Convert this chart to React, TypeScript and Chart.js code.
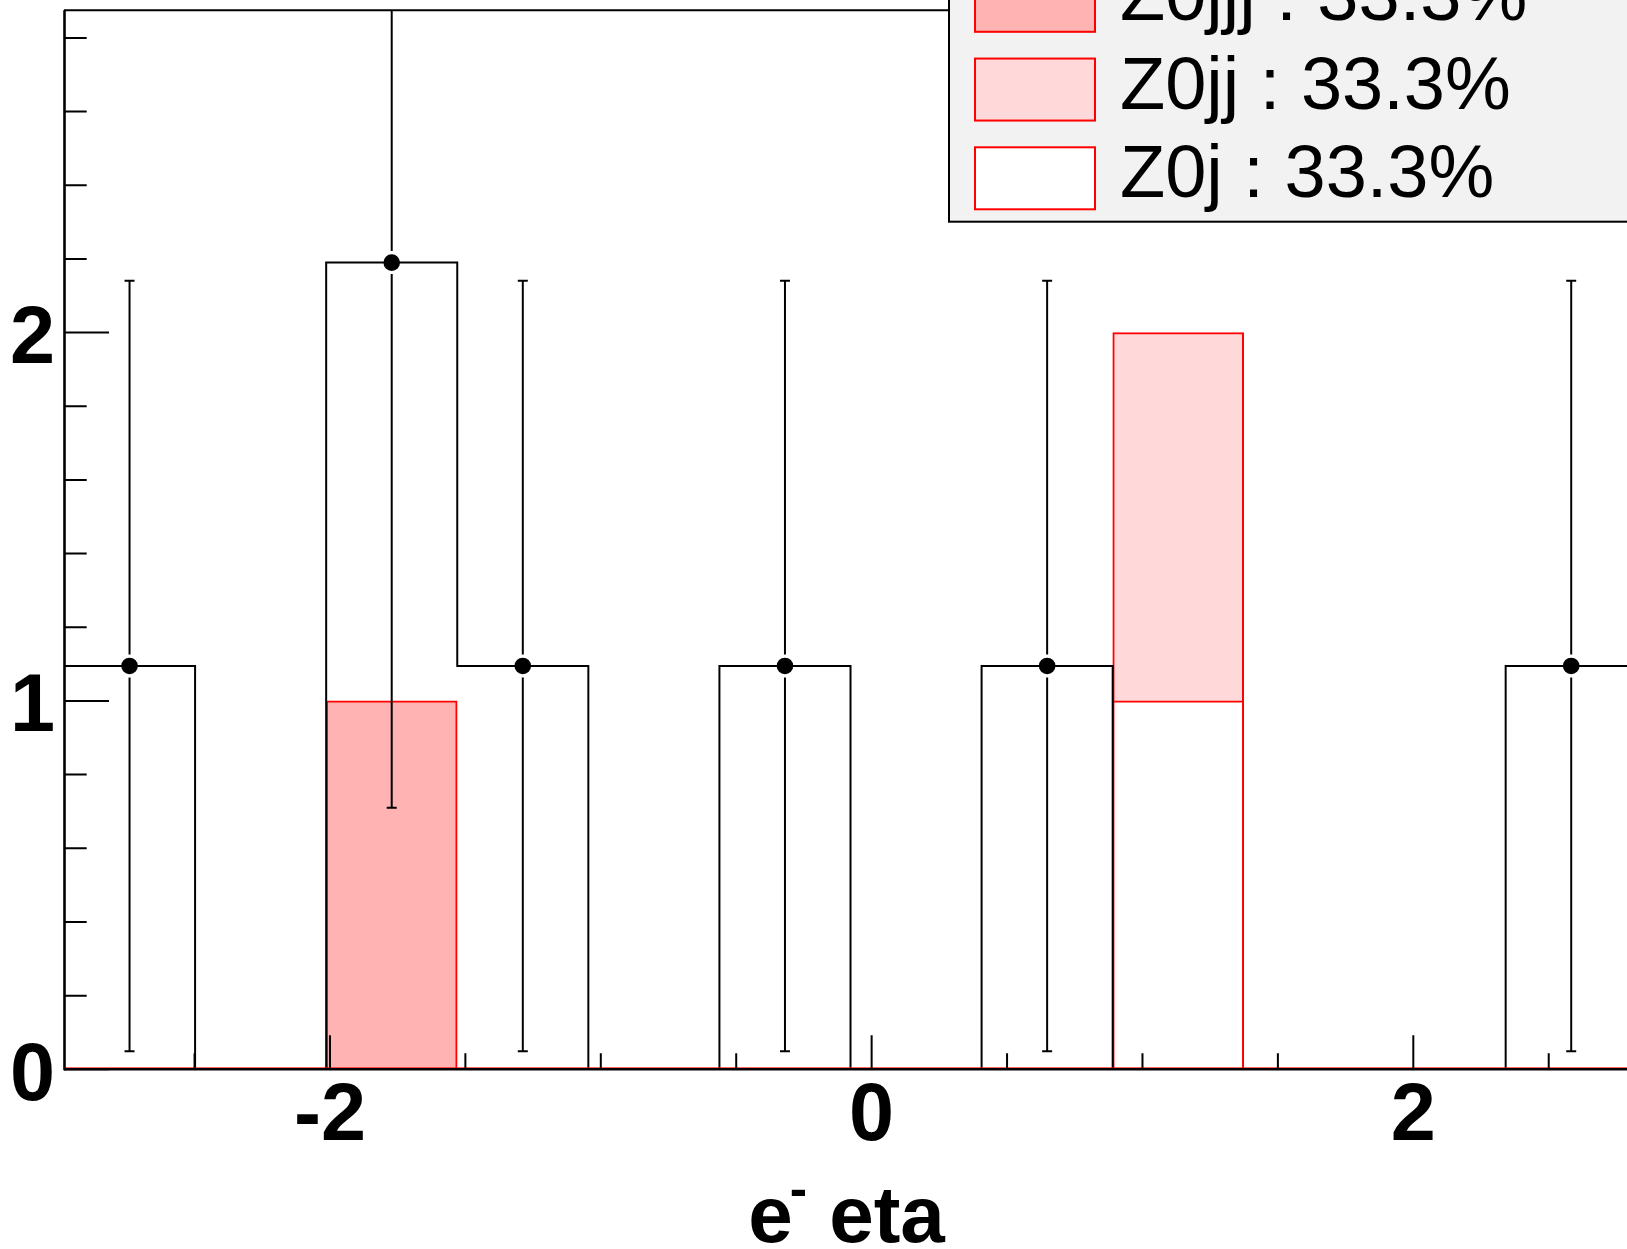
import React, { useEffect, useRef } from 'react';
import { Chart, registerables } from 'chart.js';

Chart.register(...registerables);

// ---------------- data ----------------
const binEdges = [-2.982, -2.498, -2.014, -1.53, -1.046, -0.562, -0.078, 0.406, 0.89, 1.374, 1.857, 2.341, 2.825];
const dataCounts = [1.095, 0, 2.19, 1.095, 0, 1.095, 0, 1.095, 0, 0, 0, 1.095];
const dataErrors = [1.046, 0, 1.48, 1.046, 0, 1.046, 0, 1.046, 0, 0, 0, 1.046];
const z0jCounts = [0, 0, 0, 0, 0, 0, 0, 0, 1, 0, 0, 0];
const z0jjCounts = [0, 0, 0, 0, 0, 0, 0, 0, 1, 0, 0, 0];
const z0jjjCounts = [0, 0, 1, 0, 0, 0, 0, 0, 0, 0, 0, 0];
const mcNames = ['Z0j', 'Z0jj', 'Z0jjj'];
const mcShares = ['33.3%', '33.3%', '33.3%'];
const xTickLabels = [-2, 0, 2];
const yTickLabels = [0, 1, 2];
const xTitleParts = ['e', '-', ' eta'];

// ---------------- styling ----------------
const W = 1627;
const H = 1249;
const X_MIN = -2.982;
const X_MAX = 2.789;
const Y_MIN = 0;
const Y_MAX = 2.875;
const FONT = "'Liberation Sans', Arial, Helvetica, sans-serif";
const mcFill = ['#ffffff', '#ffd9d9', '#ffb3b3'];
const RED = '#ff0000';

const isIn = (list: number[], v: number) => list.some((t) => Math.abs(t - v) < 1e-6);

const rootPlugin = {
  id: 'rootPlugin',
  afterDatasetsDraw(chart: any) {
    const { ctx, chartArea: a } = chart;
    const xs = chart.scales.x;
    const ys = chart.scales.y;
    ctx.save();

    // error bars (clipped to the frame)
    ctx.save();
    ctx.beginPath();
    ctx.rect(a.left, a.top, a.right - a.left, a.bottom - a.top);
    ctx.clip();
    ctx.strokeStyle = '#000';
    ctx.lineWidth = 2;
    dataCounts.forEach((v, i) => {
      if (v <= 0) return;
      const cx = xs.getPixelForValue((binEdges[i] + binEdges[i + 1]) / 2);
      const cy = ys.getPixelForValue(v);
      const yt = ys.getPixelForValue(v + dataErrors[i]);
      const yb = ys.getPixelForValue(v - dataErrors[i]);
      const gap = 11.5;
      ctx.beginPath();
      ctx.moveTo(cx, yt);
      ctx.lineTo(cx, cy - gap);
      ctx.moveTo(cx, cy + gap);
      ctx.lineTo(cx, yb);
      ctx.moveTo(cx - 5, yt);
      ctx.lineTo(cx + 5, yt);
      ctx.moveTo(cx - 5, yb);
      ctx.lineTo(cx + 5, yb);
      ctx.stroke();
    });
    ctx.restore();

    const y0 = ys.getPixelForValue(0);
    // red zero line of the stacked histograms
    ctx.strokeStyle = RED;
    ctx.lineWidth = 1;
    ctx.beginPath();
    ctx.moveTo(a.left, y0 - 1.4);
    ctx.lineTo(a.right, y0 - 1.4);
    ctx.stroke();

    // frame
    ctx.strokeStyle = '#000';
    ctx.lineWidth = 2.6;
    ctx.beginPath();
    ctx.moveTo(a.left + 0.5, a.bottom + 1);
    ctx.lineTo(a.left + 0.5, a.top);
    ctx.stroke();
    ctx.lineWidth = 2;
    ctx.beginPath();
    ctx.moveTo(a.left, a.top);
    ctx.lineTo(a.right, a.top);
    ctx.stroke();
    ctx.lineWidth = 2.4;
    ctx.beginPath();
    ctx.moveTo(a.left, y0);
    ctx.lineTo(a.right, y0);
    ctx.stroke();

    // inward ticks
    ctx.lineWidth = 2;
    ctx.beginPath();
    xs.ticks.forEach((t: any) => {
      const px = xs.getPixelForValue(t.value);
      const len = isIn(xTickLabels, t.value) ? 34 : 16;
      ctx.moveTo(px, y0);
      ctx.lineTo(px, y0 - len);
    });
    ys.ticks.forEach((t: any) => {
      const py = ys.getPixelForValue(t.value);
      const len = isIn(yTickLabels, t.value) ? 45 : 22.7;
      ctx.moveTo(a.left, py);
      ctx.lineTo(a.left + len, py);
    });
    ctx.stroke();
    ctx.restore();
  },
  afterDraw(chart: any) {
    const { ctx, chartArea: a } = chart;
    ctx.save();

    // x-axis title: e^{-} eta
    const mainFont = `bold 80px ${FONT}`;
    const supFont = `bold 52px ${FONT}`;
    ctx.fillStyle = '#000';
    ctx.textBaseline = 'alphabetic';
    ctx.textAlign = 'left';
    ctx.font = mainFont;
    const wE = ctx.measureText(xTitleParts[0]).width;
    const wRest = ctx.measureText(xTitleParts[2]).width;
    ctx.font = supFont;
    const wSup = ctx.measureText(xTitleParts[1]).width;
    const total = wE - 3 + wSup + wRest;
    const cxTitle = (a.left + a.right) / 2 + 1;
    let tx = cxTitle - total / 2;
    const base = 1242;
    ctx.font = mainFont;
    ctx.fillText(xTitleParts[0], tx, base);
    tx += wE - 3;
    ctx.font = supFont;
    ctx.fillText(xTitleParts[1], tx, base - 36);
    tx += wSup;
    ctx.font = mainFont;
    ctx.fillText(xTitleParts[2], tx, base);

    // legend
    const L = { left: 949, top: -60, right: W + 20, bottom: 221.7 };
    ctx.fillStyle = '#f2f2f2';
    ctx.fillRect(L.left, L.top, L.right - L.left, L.bottom - L.top);
    ctx.strokeStyle = '#000';
    ctx.lineWidth = 2;
    ctx.strokeRect(L.left, L.top, L.right - L.left, L.bottom - L.top);

    const bars = chart.data.datasets.filter((d: any) => d.type === 'bar').slice().reverse();
    const firstCenter = 0.8;
    const pitch = 88.75;
    bars.forEach((d: any, r: number) => {
      const cy = firstCenter + r * pitch;
      ctx.fillStyle = d.backgroundColor;
      ctx.fillRect(975, cy - 31, 120, 62);
      ctx.strokeStyle = RED;
      ctx.lineWidth = 2;
      ctx.strokeRect(975, cy - 31, 120, 62);
      ctx.fillStyle = '#000';
      ctx.font = `74px ${FONT}`;
      ctx.textBaseline = 'middle';
      ctx.textAlign = 'left';
      ctx.fillText(d.label, 1120, cy - 1.3);
    });
    ctx.restore();
  },
};

export default function App() {
  const ref = useRef<HTMLCanvasElement>(null);

  useEffect(() => {
    const canvas = ref.current;
    if (!canvas) return;
    const centers = dataCounts.map((_, i) => (binEdges[i] + binEdges[i + 1]) / 2);
    const mcSeries = [z0jCounts, z0jjCounts, z0jjjCounts];

    const barSets = mcSeries.map((vals, k) => ({
      type: 'bar' as const,
      label: `${mcNames[k]} : ${mcShares[k]}`,
      data: vals.map((v, i) => ({ x: centers[i], y: v })),
      backgroundColor: mcFill[k],
      borderColor: RED,
      borderWidth: { top: 2, left: 2, right: 2, bottom: 0 },
      borderSkipped: false,
      barPercentage: 1,
      categoryPercentage: 1,
      stack: 'mc',
      order: 2 + k,
    }));

    const stepLine = {
      type: 'line' as const,
      label: 'data outline',
      data: binEdges.map((e, i) => ({ x: e, y: dataCounts[Math.min(i, dataCounts.length - 1)] })),
      stepped: 'before',
      borderColor: '#000',
      borderWidth: 2,
      pointRadius: 0,
      fill: false,
      order: 1,
    };

    const points = {
      type: 'line' as const,
      label: 'data',
      data: dataCounts
        .map((v, i) => ({ x: centers[i], y: v }))
        .filter((p) => p.y > 0),
      showLine: false,
      pointRadius: 8.3,
      pointBorderWidth: 0,
      pointBackgroundColor: '#000',
      borderColor: '#000',
      order: 0,
    };

    const tickFont = { family: FONT, size: 81, weight: 'bold' as const, lineHeight: 1 };

    const chart = new Chart(canvas, {
      type: 'bar',
      data: { datasets: [...barSets, stepLine, points] as any },
      options: {
        responsive: false,
        animation: false,
        devicePixelRatio: 1,
        events: [],
        layout: { autoPadding: false, padding: { top: 10.3, left: 0, right: 0, bottom: 0 } },
        plugins: { legend: { display: false }, tooltip: { enabled: false } },
        scales: {
          x: {
            type: 'linear',
            min: X_MIN,
            max: X_MAX,
            offset: false,
            grid: { display: false, drawTicks: false, offset: false },
            border: { display: false },
            ticks: {
              stepSize: 0.5,
              includeBounds: false,
              autoSkip: false,
              maxRotation: 0,
              minRotation: 0,
              padding: 8,
              color: '#000',
              font: tickFont,
              callback: (v: any) => (isIn(xTickLabels, Number(v)) ? String(Math.round(Number(v))) : ''),
            },
            afterFit: (s: any) => {
              s.height = H - 1069.3;
              s.paddingLeft = 0;
              s.paddingRight = 0;
            },
          },
          y: {
            type: 'linear',
            min: Y_MIN,
            max: Y_MAX,
            grid: { display: false, drawTicks: false },
            border: { display: false },
            ticks: {
              stepSize: 0.2,
              includeBounds: false,
              autoSkip: false,
              padding: 9,
              labelOffset: 8,
              color: '#000',
              font: tickFont,
              callback: (v: any) => (isIn(yTickLabels, Number(v)) ? String(Math.round(Number(v))) : ''),
            },
            afterFit: (s: any) => {
              s.width = 64;
              s.paddingTop = 0;
              s.paddingBottom = 0;
            },
          },
        },
      } as any,
      plugins: [rootPlugin],
    });

    return () => chart.destroy();
  }, []);

  return (
    <div style={{ position: 'absolute', left: 0, top: 0, width: W, height: H, overflow: 'hidden', background: '#fff' }}>
      <canvas ref={ref} width={W} height={H} style={{ width: W, height: H, display: 'block' }} />
    </div>
  );
}
